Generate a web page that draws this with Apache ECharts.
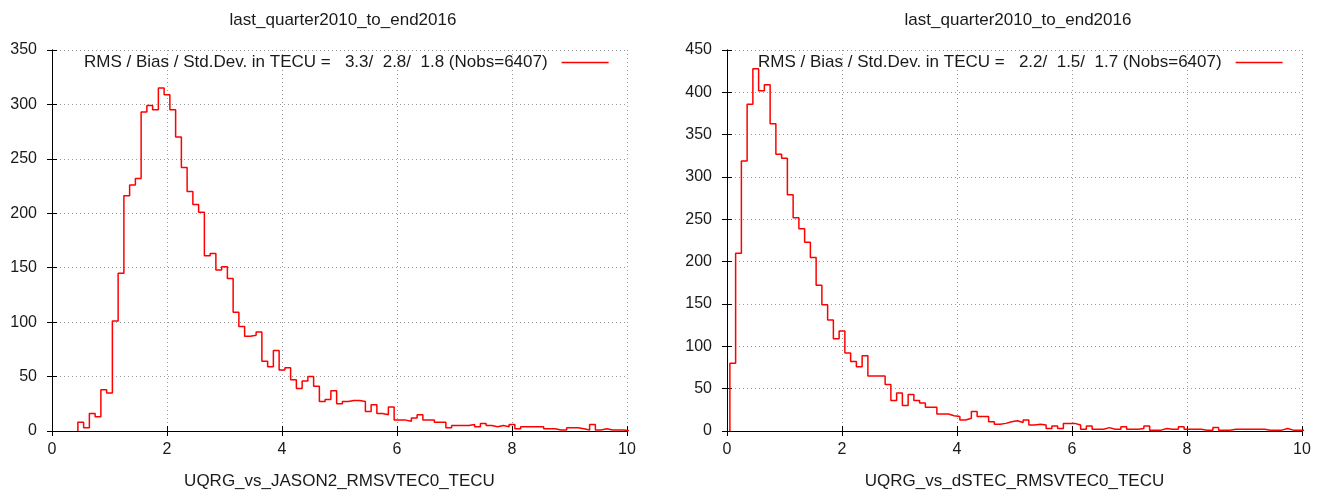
<!DOCTYPE html>
<html>
<head>
<meta charset="utf-8">
<script src="https://cdn.jsdelivr.net/npm/echarts@6/dist/echarts.min.js"></script>
<style>
  html, body { margin: 0; padding: 0; background: #fff; }
  #main { width: 1322px; height: 495px; }
</style>
</head>
<body>
<div id="main"></div>
<script>
var myChart = echarts.init(document.getElementById('main'))

// histogram bins: width 0.1, first bin centre given, counts per bin
var binWidth = 0.1
var xTicks = [0, 2, 4, 6, 8, 10]

var leftTitle = 'last_quarter2010_to_end2016'
var leftXName = 'UQRG_vs_JASON2_RMSVTEC0_TECU'
var leftKey = 'RMS / Bias / Std.Dev. in TECU =   3.3/  2.8/  1.8 (Nobs=6407)'
var leftFirstBin = 0.5
var leftCounts = [
    8, 3, 16, 13, 38,
    35, 101, 145, 216, 226, 232, 293, 299, 295, 315,
    309, 295, 270, 242, 220, 208, 201, 161, 163, 148,
    151, 140, 109, 96, 87, 88, 91, 64, 59, 74,
    56, 58, 47, 39, 46, 50, 41, 27, 29, 37,
    25, 27, 28, 28, 27, 18, 24, 16, 15, 22,
    10, 10, 9, 12, 15, 10, 10, 8, 8, 3,
    5, 5, 5, 6, 4, 7, 5, 4, 5, 4,
    6, 2, 4, 4, 4, 4, 2, 2, 1, 1,
    3, 3, 2, 1, 6, 1, 2, 1, 1, 1,
    0
]
var leftYMax = 350

var rightTitle = 'last_quarter2010_to_end2016'
var rightXName = 'UQRG_vs_dSTEC_RMSVTEC0_TECU'
var rightKey = 'RMS / Bias / Std.Dev. in TECU =   2.2/  1.5/  1.7 (Nobs=6407)'
var rightFirstBin = 0.1
var rightCounts = [
    80, 210, 319, 386, 428, 402, 409, 363, 327,
    322, 279, 252, 239, 223, 205, 172, 149, 131, 109,
    118, 92, 82, 76, 89, 65, 65, 65, 55, 36,
    45, 30, 43, 36, 33, 28, 28, 20, 20, 18,
    17, 13, 15, 23, 17, 17, 11, 8, 9, 11,
    12, 10, 13, 7, 8, 7, 3, 6, 3, 9,
    9, 7, 2, 6, 2, 2, 4, 2, 2, 5,
    2, 2, 3, 6, 1, 1, 3, 2, 2, 5,
    2, 2, 2, 1, 1, 4, 1, 1, 2, 2,
    2, 2, 2, 2, 1, 1, 1, 3, 1, 1,
    1
]
var rightYMax = 450

// turn bin counts into histogram steps (like gnuplot histeps)
function histSteps(firstBin, counts) {
    var pts = [[firstBin - binWidth / 2, 0]]
    counts.forEach(function (c, i) {
        var centre = firstBin + i * binWidth
        pts.push([centre - binWidth / 2, c])
        pts.push([centre + binWidth / 2, c])
    })
    return pts
}

var font = 'Liberation Sans'
var txt = '#1a1a1a'

function xAxes(gridIndex, name) {
    return [{
        type: 'value', gridIndex: gridIndex, min: 0, max: 10, interval: 2,
        name: name, nameLocation: 'middle', nameGap: 42,
        nameTextStyle: { fontFamily: font, fontSize: 17, color: txt },
        axisLine: { lineStyle: { color: '#000', width: 1 } },
        axisTick: { inside: true, length: 5, lineStyle: { color: '#000' } },
        axisLabel: { margin: 11, fontFamily: font, fontSize: 16, color: txt },
        splitLine: { show: true, lineStyle: { color: '#999', type: [1, 3] } }
    }, {
        type: 'value', gridIndex: gridIndex, position: 'top', min: 0, max: 10, interval: 2,
        axisLine: { lineStyle: { color: '#000', width: 1 } },
        axisTick: { inside: true, length: 5, lineStyle: { color: '#000' } },
        axisLabel: { show: false },
        splitLine: { show: false }
    }]
}

function yAxes(gridIndex, ymax) {
    return [{
        type: 'value', gridIndex: gridIndex, min: 0, max: ymax, interval: 50,
        axisLine: { show: true, lineStyle: { color: '#000', width: 1 } },
        axisTick: { show: true, inside: true, length: 5, lineStyle: { color: '#000' } },
        axisLabel: { margin: 15, fontFamily: font, fontSize: 16, color: txt },
        splitLine: { show: true, lineStyle: { color: '#999', type: [1, 3] } }
    }, {
        type: 'value', gridIndex: gridIndex, position: 'right', min: 0, max: ymax, interval: 50,
        axisLine: { show: true, lineStyle: { color: '#000', width: 1 } },
        axisTick: { show: true, inside: true, length: 5, lineStyle: { color: '#000' } },
        axisLabel: { show: false },
        splitLine: { show: false }
    }]
}

function keyLegend(left, name) {
    return {
        data: [name], left: left, top: 54, padding: 0,
        align: 'right', icon: 'rect', itemWidth: 47, itemHeight: 1.5,
        selectedMode: false,
        textStyle: { fontFamily: font, fontSize: 17, color: txt, padding: [0, 9, 0, 0] }
    }
}

function histSeries(name, axisIndex, data) {
    return {
        name: name, type: 'line', xAxisIndex: axisIndex, yAxisIndex: axisIndex,
        data: data, showSymbol: false, symbol: 'none',
        itemStyle: { color: '#ff0000' },
        lineStyle: { color: '#ff0000', width: 1.5 },
        clip: true
    }
}

var options = {
    animation: false,
    title: [
        { text: leftTitle, left: 338, top: 7, textAlign: 'center',
          textStyle: { fontFamily: font, fontSize: 17, fontWeight: 'normal', color: txt } },
        { text: rightTitle, left: 1013, top: 7, textAlign: 'center',
          textStyle: { fontFamily: font, fontSize: 17, fontWeight: 'normal', color: txt } }
    ],
    legend: [keyLegend(84, leftKey), keyLegend(758, rightKey)],
    grid: [
        { left: 52, right: 695, top: 50, bottom: 62 },
        { left: 727, right: 20, top: 50, bottom: 62 }
    ],
    xAxis: xAxes(0, leftXName).concat(xAxes(1, rightXName)),
    yAxis: yAxes(0, leftYMax).concat(yAxes(1, rightYMax)),
    series: [
        histSeries(leftKey, 0, histSteps(leftFirstBin, leftCounts)),
        histSeries(rightKey, 2, histSteps(rightFirstBin, rightCounts))
    ]
}

myChart.setOption(options)
</script>
</body>
</html>
